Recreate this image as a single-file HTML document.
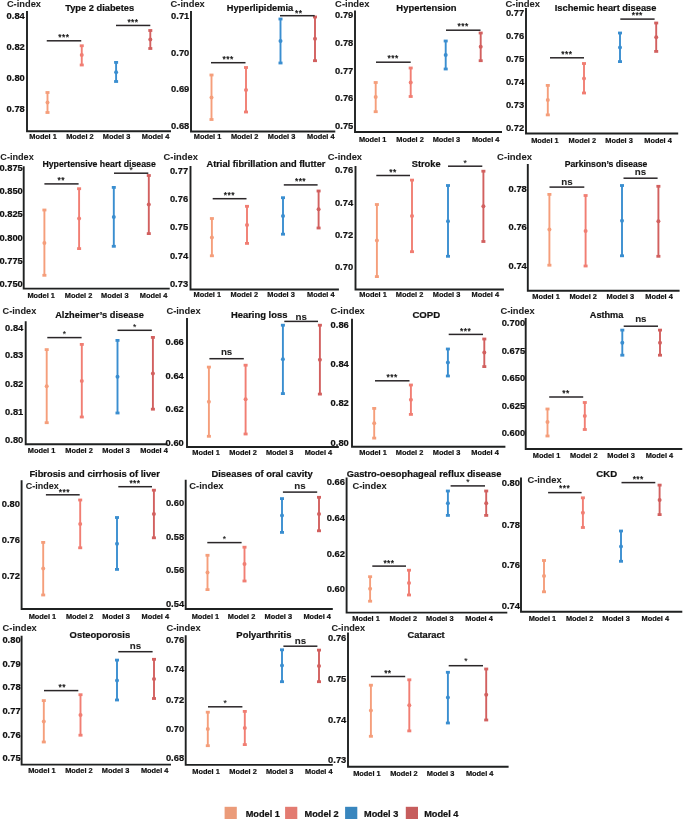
<!DOCTYPE html>
<html><head><meta charset="utf-8"><style>
html,body{margin:0;padding:0;background:#fff;width:685px;height:819px;overflow:hidden}
svg{display:block;font-family:"Liberation Sans",sans-serif;will-change:transform}
text{stroke:#111;stroke-width:0.22px}
</style></head><body>
<svg width="685" height="819" viewBox="0 0 685 819">
<rect width="685" height="819" fill="#fff"/>
<g><path d="M27 11V131.2H171" fill="none" stroke="#1f2121" stroke-width="1.9"/><text textLength="18.22" lengthAdjust="spacingAndGlyphs" x="24.8" y="19.37" font-size="9.8" font-weight="bold" text-anchor="end" fill="#111">0.84</text><text textLength="18.22" lengthAdjust="spacingAndGlyphs" x="24.8" y="50.12" font-size="9.8" font-weight="bold" text-anchor="end" fill="#111">0.82</text><text textLength="18.22" lengthAdjust="spacingAndGlyphs" x="24.8" y="81.37" font-size="9.8" font-weight="bold" text-anchor="end" fill="#111">0.80</text><text textLength="18.22" lengthAdjust="spacingAndGlyphs" x="24.8" y="112.37" font-size="9.8" font-weight="bold" text-anchor="end" fill="#111">0.78</text><text x="65.2" y="11.1" font-size="9.5" font-weight="bold" textLength="68.98" lengthAdjust="spacingAndGlyphs" fill="#111">Type 2 diabetes</text><text x="6.92" y="6.8" font-size="9.3" font-weight="bold" textLength="34.05" lengthAdjust="spacingAndGlyphs" fill="#222" style="stroke-width:0.05px">C-index</text><g fill="#F59E7B"><rect x="46.55" y="92.5" width="1.9" height="20"/><rect x="45.5" y="91.1" width="4" height="2.8"/><rect x="45.5" y="111.1" width="4" height="2.8"/><circle cx="47.5" cy="102.5" r="2"/></g><g fill="#F17E73"><rect x="80.8" y="45.75" width="1.9" height="19.25"/><rect x="79.75" y="44.35" width="4" height="2.8"/><rect x="79.75" y="63.6" width="4" height="2.8"/><circle cx="81.75" cy="55" r="2"/></g><g fill="#3A8ED0"><rect x="115.15" y="62.4" width="1.9" height="19.1"/><rect x="114.1" y="61" width="4" height="2.8"/><rect x="114.1" y="80.1" width="4" height="2.8"/><circle cx="116.1" cy="72.2" r="2"/></g><g fill="#D2605F"><rect x="149.35" y="30.5" width="1.9" height="18"/><rect x="148.3" y="29.1" width="4" height="2.8"/><rect x="148.3" y="47.1" width="4" height="2.8"/><circle cx="150.3" cy="39.4" r="2"/></g><rect x="46.75" y="40.05" width="34.5" height="1.5" fill="#2a2628"/><text letter-spacing="0.4" style="stroke-width:0.25px" x="63.8" y="39.86" font-size="8.5" text-anchor="middle" fill="#111">***</text><rect x="116" y="24.7" width="34.3" height="1.5" fill="#2a2628"/><text letter-spacing="0.4" style="stroke-width:0.25px" x="132.95" y="24.86" font-size="8.5" text-anchor="middle" fill="#111">***</text><text x="43" y="139.29" font-size="7.4" font-weight="bold" text-anchor="middle" fill="#111">Model 1</text><text x="79.9" y="139.29" font-size="7.4" font-weight="bold" text-anchor="middle" fill="#111">Model 2</text><text x="116.6" y="139.29" font-size="7.4" font-weight="bold" text-anchor="middle" fill="#111">Model 3</text><text x="155.5" y="139.29" font-size="7.4" font-weight="bold" text-anchor="middle" fill="#111">Model 4</text></g>
<g><path d="M191 11V131.5H335.3" fill="none" stroke="#1f2121" stroke-width="1.9"/><text textLength="18.22" lengthAdjust="spacingAndGlyphs" x="189.3" y="18.87" font-size="9.8" font-weight="bold" text-anchor="end" fill="#111">0.71</text><text textLength="18.22" lengthAdjust="spacingAndGlyphs" x="189.3" y="55.87" font-size="9.8" font-weight="bold" text-anchor="end" fill="#111">0.70</text><text textLength="18.22" lengthAdjust="spacingAndGlyphs" x="189.3" y="92.37" font-size="9.8" font-weight="bold" text-anchor="end" fill="#111">0.69</text><text textLength="18.22" lengthAdjust="spacingAndGlyphs" x="189.3" y="129.12" font-size="9.8" font-weight="bold" text-anchor="end" fill="#111">0.68</text><text x="226.78" y="11.2" font-size="9.5" font-weight="bold" textLength="66.46" lengthAdjust="spacingAndGlyphs" fill="#111">Hyperlipidemia</text><text x="170.62" y="6.7" font-size="9.3" font-weight="bold" textLength="34.15" lengthAdjust="spacingAndGlyphs" fill="#222" style="stroke-width:0.05px">C-index</text><g fill="#F59E7B"><rect x="210.55" y="75" width="1.9" height="44.5"/><rect x="209.5" y="73.6" width="4" height="2.8"/><rect x="209.5" y="118.1" width="4" height="2.8"/><circle cx="211.5" cy="97.5" r="2"/></g><g fill="#F17E73"><rect x="245.05" y="67.5" width="1.9" height="44.5"/><rect x="244" y="66.1" width="4" height="2.8"/><rect x="244" y="110.6" width="4" height="2.8"/><circle cx="246" cy="90" r="2"/></g><g fill="#3A8ED0"><rect x="279.55" y="19" width="1.9" height="44"/><rect x="278.5" y="17.6" width="4" height="2.8"/><rect x="278.5" y="61.6" width="4" height="2.8"/><circle cx="280.5" cy="41" r="2"/></g><g fill="#D2605F"><rect x="314.05" y="17" width="1.9" height="43.7"/><rect x="313" y="15.6" width="4" height="2.8"/><rect x="313" y="59.3" width="4" height="2.8"/><circle cx="315" cy="38.7" r="2"/></g><rect x="211" y="61.95" width="34.5" height="1.5" fill="#2a2628"/><text letter-spacing="0.4" style="stroke-width:0.25px" x="228.05" y="62.36" font-size="8.5" text-anchor="middle" fill="#111">***</text><rect x="280" y="14.95" width="34.7" height="1.5" fill="#2a2628"/><text letter-spacing="0.4" style="stroke-width:0.25px" x="298.7" y="15.76" font-size="8.5" text-anchor="middle" fill="#111">**</text><text x="207.5" y="139.29" font-size="7.4" font-weight="bold" text-anchor="middle" fill="#111">Model 1</text><text x="244.7" y="139.29" font-size="7.4" font-weight="bold" text-anchor="middle" fill="#111">Model 2</text><text x="281.6" y="139.29" font-size="7.4" font-weight="bold" text-anchor="middle" fill="#111">Model 3</text><text x="320.8" y="139.29" font-size="7.4" font-weight="bold" text-anchor="middle" fill="#111">Model 4</text></g>
<g><path d="M355 10.5V132H502" fill="none" stroke="#1f2121" stroke-width="1.9"/><text textLength="18.22" lengthAdjust="spacingAndGlyphs" x="353.3" y="18.37" font-size="9.8" font-weight="bold" text-anchor="end" fill="#111">0.79</text><text textLength="18.22" lengthAdjust="spacingAndGlyphs" x="353.3" y="45.87" font-size="9.8" font-weight="bold" text-anchor="end" fill="#111">0.78</text><text textLength="18.22" lengthAdjust="spacingAndGlyphs" x="353.3" y="73.87" font-size="9.8" font-weight="bold" text-anchor="end" fill="#111">0.77</text><text textLength="18.22" lengthAdjust="spacingAndGlyphs" x="353.3" y="101.37" font-size="9.8" font-weight="bold" text-anchor="end" fill="#111">0.76</text><text textLength="18.22" lengthAdjust="spacingAndGlyphs" x="353.3" y="129.37" font-size="9.8" font-weight="bold" text-anchor="end" fill="#111">0.75</text><text x="396.37" y="11.2" font-size="9.5" font-weight="bold" textLength="60.21" lengthAdjust="spacingAndGlyphs" fill="#111">Hypertension</text><text x="335.11" y="6.7" font-size="9.3" font-weight="bold" textLength="34.45" lengthAdjust="spacingAndGlyphs" fill="#222" style="stroke-width:0.05px">C-index</text><g fill="#F59E7B"><rect x="374.75" y="82.5" width="1.9" height="29.2"/><rect x="373.7" y="81.1" width="4" height="2.8"/><rect x="373.7" y="110.3" width="4" height="2.8"/><circle cx="375.7" cy="97" r="2"/></g><g fill="#F17E73"><rect x="409.75" y="68" width="1.9" height="28.5"/><rect x="408.7" y="66.6" width="4" height="2.8"/><rect x="408.7" y="95.1" width="4" height="2.8"/><circle cx="410.7" cy="82.5" r="2"/></g><g fill="#3A8ED0"><rect x="444.75" y="41" width="1.9" height="28"/><rect x="443.7" y="39.6" width="4" height="2.8"/><rect x="443.7" y="67.6" width="4" height="2.8"/><circle cx="445.7" cy="55" r="2"/></g><g fill="#D2605F"><rect x="479.75" y="33" width="1.9" height="27.7"/><rect x="478.7" y="31.6" width="4" height="2.8"/><rect x="478.7" y="59.3" width="4" height="2.8"/><circle cx="480.7" cy="46.7" r="2"/></g><rect x="376" y="61.45" width="34.7" height="1.5" fill="#2a2628"/><text letter-spacing="0.4" style="stroke-width:0.25px" x="393.15" y="61.36" font-size="8.5" text-anchor="middle" fill="#111">***</text><rect x="446" y="29.45" width="34.5" height="1.5" fill="#2a2628"/><text letter-spacing="0.4" style="stroke-width:0.25px" x="463.05" y="29.36" font-size="8.5" text-anchor="middle" fill="#111">***</text><text x="372.7" y="141.69" font-size="7.4" font-weight="bold" text-anchor="middle" fill="#111">Model 1</text><text x="410" y="141.69" font-size="7.4" font-weight="bold" text-anchor="middle" fill="#111">Model 2</text><text x="446.4" y="141.69" font-size="7.4" font-weight="bold" text-anchor="middle" fill="#111">Model 3</text><text x="485.7" y="141.69" font-size="7.4" font-weight="bold" text-anchor="middle" fill="#111">Model 4</text></g>
<g><path d="M526 8V133.5H678.2" fill="none" stroke="#1f2121" stroke-width="1.9"/><text textLength="18.22" lengthAdjust="spacingAndGlyphs" x="524.1" y="16.37" font-size="9.8" font-weight="bold" text-anchor="end" fill="#111">0.77</text><text textLength="18.22" lengthAdjust="spacingAndGlyphs" x="524.1" y="39.07" font-size="9.8" font-weight="bold" text-anchor="end" fill="#111">0.76</text><text textLength="18.22" lengthAdjust="spacingAndGlyphs" x="524.1" y="61.97" font-size="9.8" font-weight="bold" text-anchor="end" fill="#111">0.75</text><text textLength="18.22" lengthAdjust="spacingAndGlyphs" x="524.1" y="84.97" font-size="9.8" font-weight="bold" text-anchor="end" fill="#111">0.74</text><text textLength="18.22" lengthAdjust="spacingAndGlyphs" x="524.1" y="108.27" font-size="9.8" font-weight="bold" text-anchor="end" fill="#111">0.73</text><text textLength="18.22" lengthAdjust="spacingAndGlyphs" x="524.1" y="131.17" font-size="9.8" font-weight="bold" text-anchor="end" fill="#111">0.72</text><text x="554.78" y="10.9" font-size="9.5" font-weight="bold" textLength="101.64" lengthAdjust="spacingAndGlyphs" fill="#111">Ischemic heart disease</text><text x="505.51" y="6.5" font-size="9.3" font-weight="bold" textLength="34.56" lengthAdjust="spacingAndGlyphs" fill="#222" style="stroke-width:0.05px">C-index</text><g fill="#F59E7B"><rect x="546.85" y="85.4" width="1.9" height="29.5"/><rect x="545.8" y="84" width="4" height="2.8"/><rect x="545.8" y="113.5" width="4" height="2.8"/><circle cx="547.8" cy="100" r="2"/></g><g fill="#F17E73"><rect x="583.05" y="63.5" width="1.9" height="29.5"/><rect x="582" y="62.1" width="4" height="2.8"/><rect x="582" y="91.6" width="4" height="2.8"/><circle cx="584" cy="78.4" r="2"/></g><g fill="#3A8ED0"><rect x="619.05" y="33" width="1.9" height="28.6"/><rect x="618" y="31.6" width="4" height="2.8"/><rect x="618" y="60.2" width="4" height="2.8"/><circle cx="620" cy="47.6" r="2"/></g><g fill="#D2605F"><rect x="655.25" y="23" width="1.9" height="28.4"/><rect x="654.2" y="21.6" width="4" height="2.8"/><rect x="654.2" y="50" width="4" height="2.8"/><circle cx="656.2" cy="37.3" r="2"/></g><rect x="550" y="57.05" width="34" height="1.5" fill="#2a2628"/><text letter-spacing="0.4" style="stroke-width:0.25px" x="566.8" y="57.06" font-size="8.5" text-anchor="middle" fill="#111">***</text><rect x="620.3" y="18.35" width="34.3" height="1.5" fill="#2a2628"/><text letter-spacing="0.4" style="stroke-width:0.25px" x="637.25" y="17.86" font-size="8.5" text-anchor="middle" fill="#111">***</text><text x="544.9" y="143.09" font-size="7.4" font-weight="bold" text-anchor="middle" fill="#111">Model 1</text><text x="582.3" y="143.09" font-size="7.4" font-weight="bold" text-anchor="middle" fill="#111">Model 2</text><text x="619.1" y="143.09" font-size="7.4" font-weight="bold" text-anchor="middle" fill="#111">Model 3</text><text x="658" y="143.09" font-size="7.4" font-weight="bold" text-anchor="middle" fill="#111">Model 4</text></g>
<g><path d="M23.7 166.2V288.6H169.7" fill="none" stroke="#1f2121" stroke-width="1.9"/><text textLength="23.42" lengthAdjust="spacingAndGlyphs" x="22.8" y="171.37" font-size="9.8" font-weight="bold" text-anchor="end" fill="#111">0.875</text><text textLength="23.42" lengthAdjust="spacingAndGlyphs" x="22.8" y="194.07" font-size="9.8" font-weight="bold" text-anchor="end" fill="#111">0.850</text><text textLength="23.42" lengthAdjust="spacingAndGlyphs" x="22.8" y="216.97" font-size="9.8" font-weight="bold" text-anchor="end" fill="#111">0.825</text><text textLength="23.42" lengthAdjust="spacingAndGlyphs" x="22.8" y="240.77" font-size="9.8" font-weight="bold" text-anchor="end" fill="#111">0.800</text><text textLength="23.42" lengthAdjust="spacingAndGlyphs" x="22.8" y="263.67" font-size="9.8" font-weight="bold" text-anchor="end" fill="#111">0.775</text><text textLength="23.42" lengthAdjust="spacingAndGlyphs" x="22.8" y="286.97" font-size="9.8" font-weight="bold" text-anchor="end" fill="#111">0.750</text><text x="42.41" y="166.7" font-size="9.5" font-weight="bold" textLength="113.38" lengthAdjust="spacingAndGlyphs" fill="#111">Hypertensive heart disease</text><text x="0.33" y="159.8" font-size="9.3" font-weight="bold" textLength="33.44" lengthAdjust="spacingAndGlyphs" fill="#222" style="stroke-width:0.05px">C-index</text><g fill="#F59E7B"><rect x="43.45" y="210" width="1.9" height="65.3"/><rect x="42.4" y="208.6" width="4" height="2.8"/><rect x="42.4" y="273.9" width="4" height="2.8"/><circle cx="44.4" cy="242.9" r="2"/></g><g fill="#F17E73"><rect x="78.15" y="188.7" width="1.9" height="59.9"/><rect x="77.1" y="187.3" width="4" height="2.8"/><rect x="77.1" y="247.2" width="4" height="2.8"/><circle cx="79.1" cy="218.6" r="2"/></g><g fill="#3A8ED0"><rect x="112.85" y="187.4" width="1.9" height="58.9"/><rect x="111.8" y="186" width="4" height="2.8"/><rect x="111.8" y="244.9" width="4" height="2.8"/><circle cx="113.8" cy="216.9" r="2"/></g><g fill="#D2605F"><rect x="147.85" y="175.5" width="1.9" height="58.1"/><rect x="146.8" y="174.1" width="4" height="2.8"/><rect x="146.8" y="232.2" width="4" height="2.8"/><circle cx="148.8" cy="204.4" r="2"/></g><rect x="44.4" y="183.15" width="34.2" height="1.5" fill="#2a2628"/><text letter-spacing="0.4" style="stroke-width:0.25px" x="61.3" y="183.06" font-size="8.5" text-anchor="middle" fill="#111">**</text><rect x="114" y="172.45" width="34.3" height="1.5" fill="#2a2628"/><text style="stroke-width:0.1px" x="131.15" y="173.36" font-size="8.5" text-anchor="middle" fill="#111">*</text><text x="41.2" y="297.59" font-size="7.4" font-weight="bold" text-anchor="middle" fill="#111">Model 1</text><text x="78.6" y="297.59" font-size="7.4" font-weight="bold" text-anchor="middle" fill="#111">Model 2</text><text x="114.8" y="297.59" font-size="7.4" font-weight="bold" text-anchor="middle" fill="#111">Model 3</text><text x="153.5" y="297.59" font-size="7.4" font-weight="bold" text-anchor="middle" fill="#111">Model 4</text></g>
<g><path d="M190.5 166V289.5H338.9" fill="none" stroke="#1f2121" stroke-width="1.9"/><text textLength="18.22" lengthAdjust="spacingAndGlyphs" x="188.1" y="174.07" font-size="9.8" font-weight="bold" text-anchor="end" fill="#111">0.77</text><text textLength="18.22" lengthAdjust="spacingAndGlyphs" x="188.1" y="201.87" font-size="9.8" font-weight="bold" text-anchor="end" fill="#111">0.76</text><text textLength="18.22" lengthAdjust="spacingAndGlyphs" x="188.1" y="229.97" font-size="9.8" font-weight="bold" text-anchor="end" fill="#111">0.75</text><text textLength="18.22" lengthAdjust="spacingAndGlyphs" x="188.1" y="259.17" font-size="9.8" font-weight="bold" text-anchor="end" fill="#111">0.74</text><text textLength="18.22" lengthAdjust="spacingAndGlyphs" x="188.1" y="287.37" font-size="9.8" font-weight="bold" text-anchor="end" fill="#111">0.73</text><text x="206.47" y="167.2" font-size="9.5" font-weight="bold" textLength="118.97" lengthAdjust="spacingAndGlyphs" fill="#111">Atrial fibrillation and flutter</text><text x="163.62" y="160.2" font-size="9.3" font-weight="bold" textLength="34.25" lengthAdjust="spacingAndGlyphs" fill="#222" style="stroke-width:0.05px">C-index</text><g fill="#F59E7B"><rect x="210.95" y="218.5" width="1.9" height="37.3"/><rect x="209.9" y="217.1" width="4" height="2.8"/><rect x="209.9" y="254.4" width="4" height="2.8"/><circle cx="211.9" cy="237.4" r="2"/></g><g fill="#F17E73"><rect x="246.05" y="206.3" width="1.9" height="37.1"/><rect x="245" y="204.9" width="4" height="2.8"/><rect x="245" y="242" width="4" height="2.8"/><circle cx="247" cy="225" r="2"/></g><g fill="#3A8ED0"><rect x="282.05" y="197.7" width="1.9" height="36.5"/><rect x="281" y="196.3" width="4" height="2.8"/><rect x="281" y="232.8" width="4" height="2.8"/><circle cx="283" cy="216" r="2"/></g><g fill="#D2605F"><rect x="317.65" y="191" width="1.9" height="37"/><rect x="316.6" y="189.6" width="4" height="2.8"/><rect x="316.6" y="226.6" width="4" height="2.8"/><circle cx="318.6" cy="209.3" r="2"/></g><rect x="212.7" y="197.95" width="33.8" height="1.5" fill="#2a2628"/><text letter-spacing="0.4" style="stroke-width:0.25px" x="229.4" y="197.96" font-size="8.5" text-anchor="middle" fill="#111">***</text><rect x="283.8" y="184.15" width="33.8" height="1.5" fill="#2a2628"/><text letter-spacing="0.4" style="stroke-width:0.25px" x="300.5" y="183.96" font-size="8.5" text-anchor="middle" fill="#111">***</text><text x="207.3" y="297.09" font-size="7.4" font-weight="bold" text-anchor="middle" fill="#111">Model 1</text><text x="244.3" y="297.09" font-size="7.4" font-weight="bold" text-anchor="middle" fill="#111">Model 2</text><text x="281" y="297.09" font-size="7.4" font-weight="bold" text-anchor="middle" fill="#111">Model 3</text><text x="320.8" y="297.09" font-size="7.4" font-weight="bold" text-anchor="middle" fill="#111">Model 4</text></g>
<g><path d="M355.5 166V289.5H503.9" fill="none" stroke="#1f2121" stroke-width="1.9"/><text textLength="18.22" lengthAdjust="spacingAndGlyphs" x="353.1" y="173.47" font-size="9.8" font-weight="bold" text-anchor="end" fill="#111">0.76</text><text textLength="18.22" lengthAdjust="spacingAndGlyphs" x="353.1" y="206.37" font-size="9.8" font-weight="bold" text-anchor="end" fill="#111">0.74</text><text textLength="18.22" lengthAdjust="spacingAndGlyphs" x="353.1" y="238.37" font-size="9.8" font-weight="bold" text-anchor="end" fill="#111">0.72</text><text textLength="18.22" lengthAdjust="spacingAndGlyphs" x="353.1" y="270.37" font-size="9.8" font-weight="bold" text-anchor="end" fill="#111">0.70</text><text x="411.73" y="166.8" font-size="9.5" font-weight="bold" textLength="28.88" lengthAdjust="spacingAndGlyphs" fill="#111">Stroke</text><text x="327.82" y="160.2" font-size="9.3" font-weight="bold" textLength="34.25" lengthAdjust="spacingAndGlyphs" fill="#222" style="stroke-width:0.05px">C-index</text><g fill="#F59E7B"><rect x="375.95" y="204.5" width="1.9" height="72.1"/><rect x="374.9" y="203.1" width="4" height="2.8"/><rect x="374.9" y="275.2" width="4" height="2.8"/><circle cx="376.9" cy="240.4" r="2"/></g><g fill="#F17E73"><rect x="411.05" y="180.1" width="1.9" height="71.6"/><rect x="410" y="178.7" width="4" height="2.8"/><rect x="410" y="250.3" width="4" height="2.8"/><circle cx="412" cy="216" r="2"/></g><g fill="#3A8ED0"><rect x="447.05" y="185.5" width="1.9" height="70.8"/><rect x="446" y="184.1" width="4" height="2.8"/><rect x="446" y="254.9" width="4" height="2.8"/><circle cx="448" cy="221.2" r="2"/></g><g fill="#D2605F"><rect x="482.45" y="171.2" width="1.9" height="70.3"/><rect x="481.4" y="169.8" width="4" height="2.8"/><rect x="481.4" y="240.1" width="4" height="2.8"/><circle cx="483.4" cy="206.3" r="2"/></g><rect x="376.3" y="174.75" width="33.7" height="1.5" fill="#2a2628"/><text letter-spacing="0.4" style="stroke-width:0.25px" x="392.95" y="175.06" font-size="8.5" text-anchor="middle" fill="#111">**</text><rect x="448" y="165.45" width="34.3" height="1.5" fill="#2a2628"/><text style="stroke-width:0.1px" x="465.15" y="166.16" font-size="8.5" text-anchor="middle" fill="#111">*</text><text x="373" y="297.09" font-size="7.4" font-weight="bold" text-anchor="middle" fill="#111">Model 1</text><text x="409.6" y="297.09" font-size="7.4" font-weight="bold" text-anchor="middle" fill="#111">Model 2</text><text x="446.6" y="297.09" font-size="7.4" font-weight="bold" text-anchor="middle" fill="#111">Model 3</text><text x="485.3" y="297.09" font-size="7.4" font-weight="bold" text-anchor="middle" fill="#111">Model 4</text></g>
<g><path d="M527.8 163.9V290.8H679.6" fill="none" stroke="#1f2121" stroke-width="1.9"/><text textLength="18.22" lengthAdjust="spacingAndGlyphs" x="526.8" y="191.57" font-size="9.8" font-weight="bold" text-anchor="end" fill="#111">0.78</text><text textLength="18.22" lengthAdjust="spacingAndGlyphs" x="526.8" y="229.97" font-size="9.8" font-weight="bold" text-anchor="end" fill="#111">0.76</text><text textLength="18.22" lengthAdjust="spacingAndGlyphs" x="526.8" y="268.57" font-size="9.8" font-weight="bold" text-anchor="end" fill="#111">0.74</text><text x="564.72" y="166.8" font-size="9.5" font-weight="bold" textLength="82.67" lengthAdjust="spacingAndGlyphs" fill="#111">Parkinson’s disease</text><text x="497.11" y="160.2" font-size="9.3" font-weight="bold" textLength="34.86" lengthAdjust="spacingAndGlyphs" fill="#222" style="stroke-width:0.05px">C-index</text><g fill="#F59E7B"><rect x="548.45" y="194.4" width="1.9" height="70.8"/><rect x="547.4" y="193" width="4" height="2.8"/><rect x="547.4" y="263.8" width="4" height="2.8"/><circle cx="549.4" cy="229.6" r="2"/></g><g fill="#F17E73"><rect x="584.65" y="195.5" width="1.9" height="70.5"/><rect x="583.6" y="194.1" width="4" height="2.8"/><rect x="583.6" y="264.6" width="4" height="2.8"/><circle cx="585.6" cy="231" r="2"/></g><g fill="#3A8ED0"><rect x="621.05" y="185.5" width="1.9" height="70.3"/><rect x="620" y="184.1" width="4" height="2.8"/><rect x="620" y="254.4" width="4" height="2.8"/><circle cx="622" cy="220.7" r="2"/></g><g fill="#D2605F"><rect x="657.45" y="186.3" width="1.9" height="70"/><rect x="656.4" y="184.9" width="4" height="2.8"/><rect x="656.4" y="254.9" width="4" height="2.8"/><circle cx="658.4" cy="221.2" r="2"/></g><rect x="549.5" y="186.35" width="34.8" height="1.5" fill="#2a2628"/><text style="stroke-width:0.05px" x="566.9" y="184.6" font-size="9.8" font-weight="bold" text-anchor="middle" fill="#222">ns</text><rect x="623.5" y="177.45" width="34.1" height="1.5" fill="#2a2628"/><text style="stroke-width:0.05px" x="640.55" y="175.4" font-size="9.8" font-weight="bold" text-anchor="middle" fill="#222">ns</text><text x="546" y="298.89" font-size="7.4" font-weight="bold" text-anchor="middle" fill="#111">Model 1</text><text x="583.2" y="298.89" font-size="7.4" font-weight="bold" text-anchor="middle" fill="#111">Model 2</text><text x="620.3" y="298.89" font-size="7.4" font-weight="bold" text-anchor="middle" fill="#111">Model 3</text><text x="659" y="298.89" font-size="7.4" font-weight="bold" text-anchor="middle" fill="#111">Model 4</text></g>
<g><path d="M25.7 321.2V444.3H167.4" fill="none" stroke="#1f2121" stroke-width="1.9"/><text textLength="18.22" lengthAdjust="spacingAndGlyphs" x="23.3" y="330.77" font-size="9.8" font-weight="bold" text-anchor="end" fill="#111">0.84</text><text textLength="18.22" lengthAdjust="spacingAndGlyphs" x="23.3" y="358.37" font-size="9.8" font-weight="bold" text-anchor="end" fill="#111">0.83</text><text textLength="18.22" lengthAdjust="spacingAndGlyphs" x="23.3" y="386.67" font-size="9.8" font-weight="bold" text-anchor="end" fill="#111">0.82</text><text textLength="18.22" lengthAdjust="spacingAndGlyphs" x="23.3" y="415.07" font-size="9.8" font-weight="bold" text-anchor="end" fill="#111">0.81</text><text textLength="18.22" lengthAdjust="spacingAndGlyphs" x="23.3" y="442.77" font-size="9.8" font-weight="bold" text-anchor="end" fill="#111">0.80</text><text x="55.17" y="318" font-size="9.5" font-weight="bold" textLength="88.65" lengthAdjust="spacingAndGlyphs" fill="#111">Alzheimer’s disease</text><text x="2.62" y="314.2" font-size="9.3" font-weight="bold" textLength="33.64" lengthAdjust="spacingAndGlyphs" fill="#222" style="stroke-width:0.05px">C-index</text><g fill="#F59E7B"><rect x="45.75" y="349.6" width="1.9" height="73.1"/><rect x="44.7" y="348.2" width="4" height="2.8"/><rect x="44.7" y="421.3" width="4" height="2.8"/><circle cx="46.7" cy="386.3" r="2"/></g><g fill="#F17E73"><rect x="80.85" y="344.4" width="1.9" height="72.6"/><rect x="79.8" y="343" width="4" height="2.8"/><rect x="79.8" y="415.6" width="4" height="2.8"/><circle cx="81.8" cy="380.9" r="2"/></g><g fill="#3A8ED0"><rect x="116.55" y="340.4" width="1.9" height="72.6"/><rect x="115.5" y="339" width="4" height="2.8"/><rect x="115.5" y="411.6" width="4" height="2.8"/><circle cx="117.5" cy="376.8" r="2"/></g><g fill="#D2605F"><rect x="151.95" y="337.4" width="1.9" height="71.8"/><rect x="150.9" y="336" width="4" height="2.8"/><rect x="150.9" y="407.8" width="4" height="2.8"/><circle cx="152.9" cy="373.6" r="2"/></g><rect x="47.3" y="336.85" width="34.3" height="1.5" fill="#2a2628"/><text style="stroke-width:0.1px" x="64.45" y="336.66" font-size="8.5" text-anchor="middle" fill="#111">*</text><rect x="117.5" y="329.55" width="34.3" height="1.5" fill="#2a2628"/><text style="stroke-width:0.1px" x="134.65" y="329.86" font-size="8.5" text-anchor="middle" fill="#111">*</text><text x="41.5" y="452.59" font-size="7.4" font-weight="bold" text-anchor="middle" fill="#111">Model 1</text><text x="79" y="452.59" font-size="7.4" font-weight="bold" text-anchor="middle" fill="#111">Model 2</text><text x="116" y="452.59" font-size="7.4" font-weight="bold" text-anchor="middle" fill="#111">Model 3</text><text x="154" y="452.59" font-size="7.4" font-weight="bold" text-anchor="middle" fill="#111">Model 4</text></g>
<g><path d="M187 318V447H338.8" fill="none" stroke="#1f2121" stroke-width="1.9"/><text textLength="18.22" lengthAdjust="spacingAndGlyphs" x="183.8" y="344.77" font-size="9.8" font-weight="bold" text-anchor="end" fill="#111">0.66</text><text textLength="18.22" lengthAdjust="spacingAndGlyphs" x="183.8" y="378.57" font-size="9.8" font-weight="bold" text-anchor="end" fill="#111">0.64</text><text textLength="18.22" lengthAdjust="spacingAndGlyphs" x="183.8" y="411.77" font-size="9.8" font-weight="bold" text-anchor="end" fill="#111">0.62</text><text textLength="18.22" lengthAdjust="spacingAndGlyphs" x="183.8" y="445.57" font-size="9.8" font-weight="bold" text-anchor="end" fill="#111">0.60</text><text x="230.97" y="318" font-size="9.5" font-weight="bold" textLength="56.41" lengthAdjust="spacingAndGlyphs" fill="#111">Hearing loss</text><text x="166.42" y="314.2" font-size="9.3" font-weight="bold" textLength="34.15" lengthAdjust="spacingAndGlyphs" fill="#222" style="stroke-width:0.05px">C-index</text><g fill="#F59E7B"><rect x="207.95" y="367.1" width="1.9" height="69.2"/><rect x="206.9" y="365.7" width="4" height="2.8"/><rect x="206.9" y="434.9" width="4" height="2.8"/><circle cx="208.9" cy="401.7" r="2"/></g><g fill="#F17E73"><rect x="244.65" y="365.2" width="1.9" height="68.8"/><rect x="243.6" y="363.8" width="4" height="2.8"/><rect x="243.6" y="432.6" width="4" height="2.8"/><circle cx="245.6" cy="399.2" r="2"/></g><g fill="#3A8ED0"><rect x="281.95" y="325.2" width="1.9" height="68.4"/><rect x="280.9" y="323.8" width="4" height="2.8"/><rect x="280.9" y="392.2" width="4" height="2.8"/><circle cx="282.9" cy="359.3" r="2"/></g><g fill="#D2605F"><rect x="318.95" y="325.2" width="1.9" height="68.9"/><rect x="317.9" y="323.8" width="4" height="2.8"/><rect x="317.9" y="392.7" width="4" height="2.8"/><circle cx="319.9" cy="359.8" r="2"/></g><rect x="209.4" y="357.95" width="34.4" height="1.5" fill="#2a2628"/><text style="stroke-width:0.05px" x="226.6" y="354.9" font-size="9.8" font-weight="bold" text-anchor="middle" fill="#222">ns</text><rect x="284.3" y="320.65" width="33.7" height="1.5" fill="#2a2628"/><text style="stroke-width:0.05px" x="301.15" y="320.1" font-size="9.8" font-weight="bold" text-anchor="middle" fill="#222">ns</text><text x="206" y="455.09" font-size="7.4" font-weight="bold" text-anchor="middle" fill="#111">Model 1</text><text x="243" y="455.09" font-size="7.4" font-weight="bold" text-anchor="middle" fill="#111">Model 2</text><text x="279.7" y="455.09" font-size="7.4" font-weight="bold" text-anchor="middle" fill="#111">Model 3</text><text x="318.4" y="455.09" font-size="7.4" font-weight="bold" text-anchor="middle" fill="#111">Model 4</text></g>
<g><path d="M352 318.8V446.8H505.4" fill="none" stroke="#1f2121" stroke-width="1.9"/><text textLength="18.22" lengthAdjust="spacingAndGlyphs" x="348.8" y="327.57" font-size="9.8" font-weight="bold" text-anchor="end" fill="#111">0.86</text><text textLength="18.22" lengthAdjust="spacingAndGlyphs" x="348.8" y="366.67" font-size="9.8" font-weight="bold" text-anchor="end" fill="#111">0.84</text><text textLength="18.22" lengthAdjust="spacingAndGlyphs" x="348.8" y="405.87" font-size="9.8" font-weight="bold" text-anchor="end" fill="#111">0.82</text><text textLength="18.22" lengthAdjust="spacingAndGlyphs" x="348.8" y="445.57" font-size="9.8" font-weight="bold" text-anchor="end" fill="#111">0.80</text><text x="412.41" y="318" font-size="9.5" font-weight="bold" textLength="27.8" lengthAdjust="spacingAndGlyphs" fill="#111">COPD</text><text x="330.52" y="314.2" font-size="9.3" font-weight="bold" textLength="34.25" lengthAdjust="spacingAndGlyphs" fill="#222" style="stroke-width:0.05px">C-index</text><g fill="#F59E7B"><rect x="373.25" y="408.4" width="1.9" height="29.7"/><rect x="372.2" y="407" width="4" height="2.8"/><rect x="372.2" y="436.7" width="4" height="2.8"/><circle cx="374.2" cy="423.3" r="2"/></g><g fill="#F17E73"><rect x="409.95" y="385" width="1.9" height="29.4"/><rect x="408.9" y="383.6" width="4" height="2.8"/><rect x="408.9" y="413" width="4" height="2.8"/><circle cx="410.9" cy="399.8" r="2"/></g><g fill="#3A8ED0"><rect x="446.95" y="349" width="1.9" height="27"/><rect x="445.9" y="347.6" width="4" height="2.8"/><rect x="445.9" y="374.6" width="4" height="2.8"/><circle cx="447.9" cy="362.5" r="2"/></g><g fill="#D2605F"><rect x="483.35" y="339" width="1.9" height="27.6"/><rect x="482.3" y="337.6" width="4" height="2.8"/><rect x="482.3" y="365.2" width="4" height="2.8"/><circle cx="484.3" cy="352.5" r="2"/></g><rect x="375" y="380.05" width="34.5" height="1.5" fill="#2a2628"/><text letter-spacing="0.4" style="stroke-width:0.25px" x="392.05" y="379.86" font-size="8.5" text-anchor="middle" fill="#111">***</text><rect x="448.7" y="333.65" width="34.3" height="1.5" fill="#2a2628"/><text letter-spacing="0.4" style="stroke-width:0.25px" x="465.65" y="333.66" font-size="8.5" text-anchor="middle" fill="#111">***</text><text x="373" y="455.09" font-size="7.4" font-weight="bold" text-anchor="middle" fill="#111">Model 1</text><text x="409.6" y="455.09" font-size="7.4" font-weight="bold" text-anchor="middle" fill="#111">Model 2</text><text x="446.6" y="455.09" font-size="7.4" font-weight="bold" text-anchor="middle" fill="#111">Model 3</text><text x="485" y="455.09" font-size="7.4" font-weight="bold" text-anchor="middle" fill="#111">Model 4</text></g>
<g><path d="M525.7 318V449H682.3" fill="none" stroke="#1f2121" stroke-width="1.9"/><text textLength="23.42" lengthAdjust="spacingAndGlyphs" x="525.1" y="325.87" font-size="9.8" font-weight="bold" text-anchor="end" fill="#111">0.700</text><text textLength="23.42" lengthAdjust="spacingAndGlyphs" x="525.1" y="353.77" font-size="9.8" font-weight="bold" text-anchor="end" fill="#111">0.675</text><text textLength="23.42" lengthAdjust="spacingAndGlyphs" x="525.1" y="381.27" font-size="9.8" font-weight="bold" text-anchor="end" fill="#111">0.650</text><text textLength="23.42" lengthAdjust="spacingAndGlyphs" x="525.1" y="408.57" font-size="9.8" font-weight="bold" text-anchor="end" fill="#111">0.625</text><text textLength="23.42" lengthAdjust="spacingAndGlyphs" x="525.1" y="436.07" font-size="9.8" font-weight="bold" text-anchor="end" fill="#111">0.600</text><text x="589.77" y="318" font-size="9.5" font-weight="bold" textLength="33.57" lengthAdjust="spacingAndGlyphs" fill="#111">Asthma</text><text x="500.42" y="314.2" font-size="9.3" font-weight="bold" textLength="34.25" lengthAdjust="spacingAndGlyphs" fill="#222" style="stroke-width:0.05px">C-index</text><g fill="#F59E7B"><rect x="546.55" y="409" width="1.9" height="27"/><rect x="545.5" y="407.6" width="4" height="2.8"/><rect x="545.5" y="434.6" width="4" height="2.8"/><circle cx="547.5" cy="422" r="2"/></g><g fill="#F17E73"><rect x="583.85" y="402.5" width="1.9" height="27"/><rect x="582.8" y="401.1" width="4" height="2.8"/><rect x="582.8" y="428.1" width="4" height="2.8"/><circle cx="584.8" cy="416" r="2"/></g><g fill="#3A8ED0"><rect x="621.35" y="330.1" width="1.9" height="25.1"/><rect x="620.3" y="328.7" width="4" height="2.8"/><rect x="620.3" y="353.8" width="4" height="2.8"/><circle cx="622.3" cy="342.8" r="2"/></g><g fill="#D2605F"><rect x="659.05" y="330.1" width="1.9" height="25.1"/><rect x="658" y="328.7" width="4" height="2.8"/><rect x="658" y="353.8" width="4" height="2.8"/><circle cx="660" cy="342.8" r="2"/></g><rect x="549.2" y="396.25" width="34" height="1.5" fill="#2a2628"/><text letter-spacing="0.4" style="stroke-width:0.25px" x="566" y="396.06" font-size="8.5" text-anchor="middle" fill="#111">**</text><rect x="623.7" y="325.45" width="34.3" height="1.5" fill="#2a2628"/><text style="stroke-width:0.05px" x="640.85" y="321.9" font-size="9.8" font-weight="bold" text-anchor="middle" fill="#222">ns</text><text x="546.5" y="458.39" font-size="7.4" font-weight="bold" text-anchor="middle" fill="#111">Model 1</text><text x="583.8" y="458.39" font-size="7.4" font-weight="bold" text-anchor="middle" fill="#111">Model 2</text><text x="621" y="458.39" font-size="7.4" font-weight="bold" text-anchor="middle" fill="#111">Model 3</text><text x="659.4" y="458.39" font-size="7.4" font-weight="bold" text-anchor="middle" fill="#111">Model 4</text></g>
<g><path d="M21.6 480.3V609H170.7" fill="none" stroke="#1f2121" stroke-width="1.9"/><text textLength="18.22" lengthAdjust="spacingAndGlyphs" x="20" y="506.57" font-size="9.8" font-weight="bold" text-anchor="end" fill="#111">0.80</text><text textLength="18.22" lengthAdjust="spacingAndGlyphs" x="20" y="543.07" font-size="9.8" font-weight="bold" text-anchor="end" fill="#111">0.76</text><text textLength="18.22" lengthAdjust="spacingAndGlyphs" x="20" y="579.47" font-size="9.8" font-weight="bold" text-anchor="end" fill="#111">0.72</text><text x="29.38" y="476.7" font-size="9.5" font-weight="bold" textLength="130.56" lengthAdjust="spacingAndGlyphs" fill="#111">Fibrosis and cirrhosis of liver</text><text x="25.83" y="488.5" font-size="9.3" font-weight="bold" textLength="32.93" lengthAdjust="spacingAndGlyphs" fill="#222" style="stroke-width:0.05px">C-index</text><g fill="#F59E7B"><rect x="42.25" y="542.4" width="1.9" height="52.6"/><rect x="41.2" y="541" width="4" height="2.8"/><rect x="41.2" y="593.6" width="4" height="2.8"/><circle cx="43.2" cy="568.6" r="2"/></g><g fill="#F17E73"><rect x="79.25" y="500" width="1.9" height="47.8"/><rect x="78.2" y="498.6" width="4" height="2.8"/><rect x="78.2" y="546.4" width="4" height="2.8"/><circle cx="80.2" cy="524" r="2"/></g><g fill="#3A8ED0"><rect x="116.05" y="517.5" width="1.9" height="51.9"/><rect x="115" y="516.1" width="4" height="2.8"/><rect x="115" y="568" width="4" height="2.8"/><circle cx="117" cy="543.7" r="2"/></g><g fill="#D2605F"><rect x="152.95" y="490.2" width="1.9" height="47.6"/><rect x="151.9" y="488.8" width="4" height="2.8"/><rect x="151.9" y="536.4" width="4" height="2.8"/><circle cx="153.9" cy="514" r="2"/></g><rect x="45.9" y="494.05" width="33.8" height="1.5" fill="#2a2628"/><text letter-spacing="0.4" style="stroke-width:0.25px" x="64.3" y="494.56" font-size="8.5" text-anchor="middle" fill="#111">***</text><rect x="118.3" y="485.95" width="33.7" height="1.5" fill="#2a2628"/><text letter-spacing="0.4" style="stroke-width:0.25px" x="134.95" y="485.96" font-size="8.5" text-anchor="middle" fill="#111">***</text><text x="42.4" y="618.59" font-size="7.4" font-weight="bold" text-anchor="middle" fill="#111">Model 1</text><text x="79.7" y="618.59" font-size="7.4" font-weight="bold" text-anchor="middle" fill="#111">Model 2</text><text x="116.1" y="618.59" font-size="7.4" font-weight="bold" text-anchor="middle" fill="#111">Model 3</text><text x="155.3" y="618.59" font-size="7.4" font-weight="bold" text-anchor="middle" fill="#111">Model 4</text></g>
<g><path d="M185.7 479.7V609H332.8" fill="none" stroke="#1f2121" stroke-width="1.9"/><text textLength="18.22" lengthAdjust="spacingAndGlyphs" x="184.1" y="505.77" font-size="9.8" font-weight="bold" text-anchor="end" fill="#111">0.60</text><text textLength="18.22" lengthAdjust="spacingAndGlyphs" x="184.1" y="539.57" font-size="9.8" font-weight="bold" text-anchor="end" fill="#111">0.58</text><text textLength="18.22" lengthAdjust="spacingAndGlyphs" x="184.1" y="573.37" font-size="9.8" font-weight="bold" text-anchor="end" fill="#111">0.56</text><text textLength="18.22" lengthAdjust="spacingAndGlyphs" x="184.1" y="607.07" font-size="9.8" font-weight="bold" text-anchor="end" fill="#111">0.54</text><text x="211.47" y="476.7" font-size="9.5" font-weight="bold" textLength="101.18" lengthAdjust="spacingAndGlyphs" fill="#111">Diseases of oral cavity</text><text x="189.32" y="488.7" font-size="9.3" font-weight="bold" textLength="34.25" lengthAdjust="spacingAndGlyphs" fill="#222" style="stroke-width:0.05px">C-index</text><g fill="#F59E7B"><rect x="206.55" y="555.3" width="1.9" height="34.3"/><rect x="205.5" y="553.9" width="4" height="2.8"/><rect x="205.5" y="588.2" width="4" height="2.8"/><circle cx="207.5" cy="572.6" r="2"/></g><g fill="#F17E73"><rect x="243.55" y="547.2" width="1.9" height="33.8"/><rect x="242.5" y="545.8" width="4" height="2.8"/><rect x="242.5" y="579.6" width="4" height="2.8"/><circle cx="244.5" cy="564" r="2"/></g><g fill="#3A8ED0"><rect x="281.05" y="498.6" width="1.9" height="33.8"/><rect x="280" y="497.2" width="4" height="2.8"/><rect x="280" y="531" width="4" height="2.8"/><circle cx="282" cy="515.4" r="2"/></g><g fill="#D2605F"><rect x="318.05" y="497.3" width="1.9" height="33.5"/><rect x="317" y="495.9" width="4" height="2.8"/><rect x="317" y="529.4" width="4" height="2.8"/><circle cx="319" cy="514" r="2"/></g><rect x="207.3" y="541.85" width="34.3" height="1.5" fill="#2a2628"/><text style="stroke-width:0.1px" x="224.45" y="542.16" font-size="8.5" text-anchor="middle" fill="#111">*</text><rect x="282.9" y="491.35" width="34.3" height="1.5" fill="#2a2628"/><text style="stroke-width:0.05px" x="300.05" y="488.8" font-size="9.8" font-weight="bold" text-anchor="middle" fill="#222">ns</text><text x="205.4" y="618.59" font-size="7.4" font-weight="bold" text-anchor="middle" fill="#111">Model 1</text><text x="241.6" y="618.59" font-size="7.4" font-weight="bold" text-anchor="middle" fill="#111">Model 2</text><text x="278.3" y="618.59" font-size="7.4" font-weight="bold" text-anchor="middle" fill="#111">Model 3</text><text x="317.2" y="618.59" font-size="7.4" font-weight="bold" text-anchor="middle" fill="#111">Model 4</text></g>
<g><path d="M346.6 477.6V612.6H507.3" fill="none" stroke="#1f2121" stroke-width="1.9"/><text textLength="18.22" lengthAdjust="spacingAndGlyphs" x="345" y="485.47" font-size="9.8" font-weight="bold" text-anchor="end" fill="#111">0.66</text><text textLength="18.22" lengthAdjust="spacingAndGlyphs" x="345" y="520.87" font-size="9.8" font-weight="bold" text-anchor="end" fill="#111">0.64</text><text textLength="18.22" lengthAdjust="spacingAndGlyphs" x="345" y="556.57" font-size="9.8" font-weight="bold" text-anchor="end" fill="#111">0.62</text><text textLength="18.22" lengthAdjust="spacingAndGlyphs" x="345" y="592.17" font-size="9.8" font-weight="bold" text-anchor="end" fill="#111">0.60</text><text x="346.72" y="476.7" font-size="9.5" font-weight="bold" textLength="154.6" lengthAdjust="spacingAndGlyphs" fill="#111">Gastro-oesophageal reflux disease</text><text x="352.42" y="489.2" font-size="9.3" font-weight="bold" textLength="34.25" lengthAdjust="spacingAndGlyphs" fill="#222" style="stroke-width:0.05px">C-index</text><g fill="#F59E7B"><rect x="369.15" y="576.7" width="1.9" height="24.5"/><rect x="368.1" y="575.3" width="4" height="2.8"/><rect x="368.1" y="599.8" width="4" height="2.8"/><circle cx="370.1" cy="588.8" r="2"/></g><g fill="#F17E73"><rect x="408.05" y="570.2" width="1.9" height="24.8"/><rect x="407" y="568.8" width="4" height="2.8"/><rect x="407" y="593.6" width="4" height="2.8"/><circle cx="409" cy="582.9" r="2"/></g><g fill="#3A8ED0"><rect x="446.95" y="491" width="1.9" height="24.4"/><rect x="445.9" y="489.6" width="4" height="2.8"/><rect x="445.9" y="514" width="4" height="2.8"/><circle cx="447.9" cy="503.2" r="2"/></g><g fill="#D2605F"><rect x="485.25" y="491" width="1.9" height="24.4"/><rect x="484.2" y="489.6" width="4" height="2.8"/><rect x="484.2" y="514" width="4" height="2.8"/><circle cx="486.2" cy="503.2" r="2"/></g><rect x="372.3" y="565.35" width="33.7" height="1.5" fill="#2a2628"/><text letter-spacing="0.4" style="stroke-width:0.25px" x="388.95" y="565.66" font-size="8.5" text-anchor="middle" fill="#111">***</text><rect x="450.6" y="485.15" width="34.4" height="1.5" fill="#2a2628"/><text style="stroke-width:0.1px" x="467.8" y="485.36" font-size="8.5" text-anchor="middle" fill="#111">*</text><text x="366" y="620.59" font-size="7.4" font-weight="bold" text-anchor="middle" fill="#111">Model 1</text><text x="403.3" y="620.59" font-size="7.4" font-weight="bold" text-anchor="middle" fill="#111">Model 2</text><text x="439.8" y="620.59" font-size="7.4" font-weight="bold" text-anchor="middle" fill="#111">Model 3</text><text x="479" y="620.59" font-size="7.4" font-weight="bold" text-anchor="middle" fill="#111">Model 4</text></g>
<g><path d="M521 477.6V611.8H682.3" fill="none" stroke="#1f2121" stroke-width="1.9"/><text textLength="18.22" lengthAdjust="spacingAndGlyphs" x="520" y="485.77" font-size="9.8" font-weight="bold" text-anchor="end" fill="#111">0.80</text><text textLength="18.22" lengthAdjust="spacingAndGlyphs" x="520" y="527.67" font-size="9.8" font-weight="bold" text-anchor="end" fill="#111">0.78</text><text textLength="18.22" lengthAdjust="spacingAndGlyphs" x="520" y="568.17" font-size="9.8" font-weight="bold" text-anchor="end" fill="#111">0.76</text><text textLength="18.22" lengthAdjust="spacingAndGlyphs" x="520" y="609.17" font-size="9.8" font-weight="bold" text-anchor="end" fill="#111">0.74</text><text x="596.31" y="476.7" font-size="9.5" font-weight="bold" textLength="20.8" lengthAdjust="spacingAndGlyphs" fill="#111">CKD</text><text x="527.42" y="482.6" font-size="9.3" font-weight="bold" textLength="34.25" lengthAdjust="spacingAndGlyphs" fill="#222" style="stroke-width:0.05px">C-index</text><g fill="#F59E7B"><rect x="543.05" y="560.5" width="1.9" height="31.3"/><rect x="542" y="559.1" width="4" height="2.8"/><rect x="542" y="590.4" width="4" height="2.8"/><circle cx="544" cy="576.1" r="2"/></g><g fill="#F17E73"><rect x="581.95" y="497.8" width="1.9" height="29.7"/><rect x="580.9" y="496.4" width="4" height="2.8"/><rect x="580.9" y="526.1" width="4" height="2.8"/><circle cx="582.9" cy="512.7" r="2"/></g><g fill="#3A8ED0"><rect x="620.05" y="531" width="1.9" height="30.3"/><rect x="619" y="529.6" width="4" height="2.8"/><rect x="619" y="559.9" width="4" height="2.8"/><circle cx="621" cy="546.4" r="2"/></g><g fill="#D2605F"><rect x="658.65" y="485.1" width="1.9" height="29.5"/><rect x="657.6" y="483.7" width="4" height="2.8"/><rect x="657.6" y="513.2" width="4" height="2.8"/><circle cx="659.6" cy="500" r="2"/></g><rect x="548.1" y="491.85" width="33.5" height="1.5" fill="#2a2628"/><text letter-spacing="0.4" style="stroke-width:0.25px" x="564.65" y="491.36" font-size="8.5" text-anchor="middle" fill="#111">***</text><rect x="621.5" y="481.85" width="33.8" height="1.5" fill="#2a2628"/><text letter-spacing="0.4" style="stroke-width:0.25px" x="638.2" y="482.46" font-size="8.5" text-anchor="middle" fill="#111">***</text><text x="542.4" y="620.59" font-size="7.4" font-weight="bold" text-anchor="middle" fill="#111">Model 1</text><text x="579.7" y="620.59" font-size="7.4" font-weight="bold" text-anchor="middle" fill="#111">Model 2</text><text x="616.1" y="620.59" font-size="7.4" font-weight="bold" text-anchor="middle" fill="#111">Model 3</text><text x="655.3" y="620.59" font-size="7.4" font-weight="bold" text-anchor="middle" fill="#111">Model 4</text></g>
<g><path d="M21.6 635.8V764.6H171" fill="none" stroke="#1f2121" stroke-width="1.9"/><text textLength="18.22" lengthAdjust="spacingAndGlyphs" x="20.6" y="643.27" font-size="9.8" font-weight="bold" text-anchor="end" fill="#111">0.80</text><text textLength="18.22" lengthAdjust="spacingAndGlyphs" x="20.6" y="666.97" font-size="9.8" font-weight="bold" text-anchor="end" fill="#111">0.79</text><text textLength="18.22" lengthAdjust="spacingAndGlyphs" x="20.6" y="690.47" font-size="9.8" font-weight="bold" text-anchor="end" fill="#111">0.78</text><text textLength="18.22" lengthAdjust="spacingAndGlyphs" x="20.6" y="714.27" font-size="9.8" font-weight="bold" text-anchor="end" fill="#111">0.77</text><text textLength="18.22" lengthAdjust="spacingAndGlyphs" x="20.6" y="737.77" font-size="9.8" font-weight="bold" text-anchor="end" fill="#111">0.76</text><text textLength="18.22" lengthAdjust="spacingAndGlyphs" x="20.6" y="761.27" font-size="9.8" font-weight="bold" text-anchor="end" fill="#111">0.75</text><text x="69.61" y="638" font-size="9.5" font-weight="bold" textLength="60.57" lengthAdjust="spacingAndGlyphs" fill="#111">Osteoporosis</text><text x="2.62" y="630.7" font-size="9.3" font-weight="bold" textLength="34.15" lengthAdjust="spacingAndGlyphs" fill="#222" style="stroke-width:0.05px">C-index</text><g fill="#F59E7B"><rect x="42.85" y="700.6" width="1.9" height="41.4"/><rect x="41.8" y="699.2" width="4" height="2.8"/><rect x="41.8" y="740.6" width="4" height="2.8"/><circle cx="43.8" cy="721.4" r="2"/></g><g fill="#F17E73"><rect x="79.55" y="694.7" width="1.9" height="40.5"/><rect x="78.5" y="693.3" width="4" height="2.8"/><rect x="78.5" y="733.8" width="4" height="2.8"/><circle cx="80.5" cy="715" r="2"/></g><g fill="#3A8ED0"><rect x="116.05" y="660.1" width="1.9" height="39.9"/><rect x="115" y="658.7" width="4" height="2.8"/><rect x="115" y="698.6" width="4" height="2.8"/><circle cx="117" cy="680.4" r="2"/></g><g fill="#D2605F"><rect x="153.05" y="659.3" width="1.9" height="39.2"/><rect x="152" y="657.9" width="4" height="2.8"/><rect x="152" y="697.1" width="4" height="2.8"/><circle cx="154" cy="679" r="2"/></g><rect x="44" y="689.85" width="34.3" height="1.5" fill="#2a2628"/><text letter-spacing="0.4" style="stroke-width:0.25px" x="62.2" y="690.16" font-size="8.5" text-anchor="middle" fill="#111">**</text><rect x="118.3" y="650.95" width="34.3" height="1.5" fill="#2a2628"/><text style="stroke-width:0.05px" x="135.45" y="649.2" font-size="9.8" font-weight="bold" text-anchor="middle" fill="#222">ns</text><text x="41.9" y="773.39" font-size="7.4" font-weight="bold" text-anchor="middle" fill="#111">Model 1</text><text x="78.9" y="773.39" font-size="7.4" font-weight="bold" text-anchor="middle" fill="#111">Model 2</text><text x="115.6" y="773.39" font-size="7.4" font-weight="bold" text-anchor="middle" fill="#111">Model 3</text><text x="154.7" y="773.39" font-size="7.4" font-weight="bold" text-anchor="middle" fill="#111">Model 4</text></g>
<g><path d="M185.7 635.3V764.9H332.8" fill="none" stroke="#1f2121" stroke-width="1.9"/><text textLength="18.22" lengthAdjust="spacingAndGlyphs" x="184.1" y="643.27" font-size="9.8" font-weight="bold" text-anchor="end" fill="#111">0.76</text><text textLength="18.22" lengthAdjust="spacingAndGlyphs" x="184.1" y="672.37" font-size="9.8" font-weight="bold" text-anchor="end" fill="#111">0.74</text><text textLength="18.22" lengthAdjust="spacingAndGlyphs" x="184.1" y="702.67" font-size="9.8" font-weight="bold" text-anchor="end" fill="#111">0.72</text><text textLength="18.22" lengthAdjust="spacingAndGlyphs" x="184.1" y="731.77" font-size="9.8" font-weight="bold" text-anchor="end" fill="#111">0.70</text><text textLength="18.22" lengthAdjust="spacingAndGlyphs" x="184.1" y="761.47" font-size="9.8" font-weight="bold" text-anchor="end" fill="#111">0.68</text><text x="236.37" y="638" font-size="9.5" font-weight="bold" textLength="55.02" lengthAdjust="spacingAndGlyphs" fill="#111">Polyarthritis</text><text x="166.42" y="630.6" font-size="9.3" font-weight="bold" textLength="34.15" lengthAdjust="spacingAndGlyphs" fill="#222" style="stroke-width:0.05px">C-index</text><g fill="#F59E7B"><rect x="206.85" y="712.2" width="1.9" height="33.5"/><rect x="205.8" y="710.8" width="4" height="2.8"/><rect x="205.8" y="744.3" width="4" height="2.8"/><circle cx="207.8" cy="729" r="2"/></g><g fill="#F17E73"><rect x="243.85" y="711.4" width="1.9" height="33.2"/><rect x="242.8" y="710" width="4" height="2.8"/><rect x="242.8" y="743.2" width="4" height="2.8"/><circle cx="244.8" cy="727.9" r="2"/></g><g fill="#3A8ED0"><rect x="281.05" y="649.8" width="1.9" height="31.9"/><rect x="280" y="648.4" width="4" height="2.8"/><rect x="280" y="680.3" width="4" height="2.8"/><circle cx="282" cy="665.5" r="2"/></g><g fill="#D2605F"><rect x="318.05" y="650.1" width="1.9" height="31.6"/><rect x="317" y="648.7" width="4" height="2.8"/><rect x="317" y="680.3" width="4" height="2.8"/><circle cx="319" cy="666" r="2"/></g><rect x="208" y="706.05" width="34.4" height="1.5" fill="#2a2628"/><text style="stroke-width:0.1px" x="225.2" y="706.36" font-size="8.5" text-anchor="middle" fill="#111">*</text><rect x="283.4" y="645.45" width="34" height="1.5" fill="#2a2628"/><text style="stroke-width:0.05px" x="300.4" y="643.8" font-size="9.8" font-weight="bold" text-anchor="middle" fill="#222">ns</text><text x="206" y="773.99" font-size="7.4" font-weight="bold" text-anchor="middle" fill="#111">Model 1</text><text x="243" y="773.99" font-size="7.4" font-weight="bold" text-anchor="middle" fill="#111">Model 2</text><text x="279.7" y="773.99" font-size="7.4" font-weight="bold" text-anchor="middle" fill="#111">Model 3</text><text x="318.8" y="773.99" font-size="7.4" font-weight="bold" text-anchor="middle" fill="#111">Model 4</text></g>
<g><path d="M348 632.6V766.8H508.6" fill="none" stroke="#1f2121" stroke-width="1.9"/><text textLength="18.22" lengthAdjust="spacingAndGlyphs" x="346.3" y="640.57" font-size="9.8" font-weight="bold" text-anchor="end" fill="#111">0.76</text><text textLength="18.22" lengthAdjust="spacingAndGlyphs" x="346.3" y="681.87" font-size="9.8" font-weight="bold" text-anchor="end" fill="#111">0.75</text><text textLength="18.22" lengthAdjust="spacingAndGlyphs" x="346.3" y="722.87" font-size="9.8" font-weight="bold" text-anchor="end" fill="#111">0.74</text><text textLength="18.22" lengthAdjust="spacingAndGlyphs" x="346.3" y="763.37" font-size="9.8" font-weight="bold" text-anchor="end" fill="#111">0.73</text><text x="407.52" y="638" font-size="9.5" font-weight="bold" textLength="37.19" lengthAdjust="spacingAndGlyphs" fill="#111">Cataract</text><text x="331.42" y="630.6" font-size="9.3" font-weight="bold" textLength="33.64" lengthAdjust="spacingAndGlyphs" fill="#222" style="stroke-width:0.05px">C-index</text><g fill="#F59E7B"><rect x="369.95" y="685.2" width="1.9" height="51.1"/><rect x="368.9" y="683.8" width="4" height="2.8"/><rect x="368.9" y="734.9" width="4" height="2.8"/><circle cx="370.9" cy="710.6" r="2"/></g><g fill="#F17E73"><rect x="408.35" y="679.8" width="1.9" height="51.1"/><rect x="407.3" y="678.4" width="4" height="2.8"/><rect x="407.3" y="729.5" width="4" height="2.8"/><circle cx="409.3" cy="705.2" r="2"/></g><g fill="#3A8ED0"><rect x="446.95" y="672.3" width="1.9" height="50.7"/><rect x="445.9" y="670.9" width="4" height="2.8"/><rect x="445.9" y="721.6" width="4" height="2.8"/><circle cx="447.9" cy="697.4" r="2"/></g><g fill="#D2605F"><rect x="485.25" y="669" width="1.9" height="51"/><rect x="484.2" y="667.6" width="4" height="2.8"/><rect x="484.2" y="718.6" width="4" height="2.8"/><circle cx="486.2" cy="694.7" r="2"/></g><rect x="370.9" y="675.75" width="34.3" height="1.5" fill="#2a2628"/><text letter-spacing="0.4" style="stroke-width:0.25px" x="387.85" y="676.06" font-size="8.5" text-anchor="middle" fill="#111">**</text><rect x="448.7" y="664.95" width="34.3" height="1.5" fill="#2a2628"/><text style="stroke-width:0.1px" x="465.85" y="664.46" font-size="8.5" text-anchor="middle" fill="#111">*</text><text x="366.9" y="776.09" font-size="7.4" font-weight="bold" text-anchor="middle" fill="#111">Model 1</text><text x="403.9" y="776.09" font-size="7.4" font-weight="bold" text-anchor="middle" fill="#111">Model 2</text><text x="440.6" y="776.09" font-size="7.4" font-weight="bold" text-anchor="middle" fill="#111">Model 3</text><text x="479.7" y="776.09" font-size="7.4" font-weight="bold" text-anchor="middle" fill="#111">Model 4</text></g>
<rect x="224.6" y="806.8" width="12.2" height="12.2" fill="#EB9B79"/><text x="245.7" y="816.8" font-size="9.2" font-weight="bold" text-anchor="start" fill="#111">Model 1</text><rect x="285.1" y="806.8" width="12.2" height="12.2" fill="#E37B71"/><text x="304.5" y="816.8" font-size="9.2" font-weight="bold" text-anchor="start" fill="#111">Model 2</text><rect x="345.1" y="806.8" width="12.2" height="12.2" fill="#3886BE"/><text x="364.1" y="816.8" font-size="9.2" font-weight="bold" text-anchor="start" fill="#111">Model 3</text><rect x="405.8" y="806.8" width="12.2" height="12.2" fill="#C65D5D"/><text x="424.2" y="816.8" font-size="9.2" font-weight="bold" text-anchor="start" fill="#111">Model 4</text>
</svg>
</body></html>
